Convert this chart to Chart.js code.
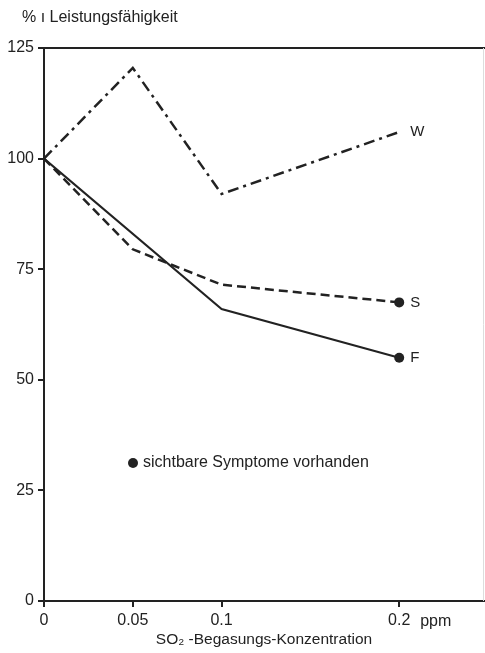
<!DOCTYPE html>
<html><head><meta charset="utf-8">
<script src="https://cdn.jsdelivr.net/npm/chart.js@4/dist/chart.umd.min.js"></script>
<style>html,body{margin:0;padding:0;background:#fff}#wrap{width:485px;height:653px}</style>
</head><body><div id="wrap"><canvas id="c" width="485" height="653"></canvas></div>
<script>
const concW = [0, 0.05, 0.1, 0.2];
const valuesW = [100, 120.5, 92, 106];
const concS = [0, 0.05, 0.1, 0.2];
const valuesS = [100, 79.5, 71.5, 67.5];
const concF = [0, 0.1, 0.2];
const valuesF = [100, 66, 55];
const seriesLabels = ['W', 'S', 'F'];
const symptomsW = [false, false, false, false];
const symptomsS = [false, false, false, true];
const symptomsF = [false, false, true];
const xTicks = [0, 0.05, 0.1, 0.2];
const xTickLabels = ['0', '0.05', '0.1', '0.2'];
const yTicks = [0, 25, 50, 75, 100, 125];
const yTitle = '% ı Leistungsfähigkeit';
const xTitle = 'SO₂ -Begasungs-Konzentration';
const xUnit = 'ppm';
const legendText = 'sichtbare Symptome vorhanden';

const INK = '#222';
const FONT = '"Liberation Sans", Arial, sans-serif';

function pts(xs, ys) { return xs.map((x, i) => ({ x: x, y: ys[i] })); }

const ds = [
  { label: seriesLabels[0], data: pts(concW, valuesW), borderColor: INK, borderWidth: 2.5,
    borderDash: [11, 5, 3, 5], pointRadius: symptomsW.map(s => s ? 5 : 0), backgroundColor: INK, showLine: true },
  { label: seriesLabels[1], data: pts(concS, valuesS), borderColor: INK, borderWidth: 2.5,
    borderDash: [9, 5], pointRadius: symptomsS.map(s => s ? 5 : 0), pointBackgroundColor: INK, pointBorderWidth: 0, backgroundColor: INK, showLine: true },
  { label: seriesLabels[2], data: pts(concF, valuesF), borderColor: INK, borderWidth: 2,
    pointRadius: symptomsF.map(s => s ? 5 : 0), pointBackgroundColor: INK, pointBorderWidth: 0, backgroundColor: INK, showLine: true }
];

const deco = {
  id: 'deco',
  afterDraw(chart) {
    const { ctx, chartArea: a, scales: { x, y } } = chart;
    const W = chart.width;
    ctx.save();
    ctx.strokeStyle = INK;
    ctx.lineWidth = 2;
    const yt = y.getPixelForValue(125);
    const yb = y.getPixelForValue(0);
    ctx.beginPath(); ctx.moveTo(a.left - 1, yt); ctx.lineTo(W, yt); ctx.stroke();
    ctx.beginPath(); ctx.moveTo(a.right - 2, yb); ctx.lineTo(W, yb); ctx.stroke();
    ctx.strokeStyle = '#ddd'; ctx.lineWidth = 1;
    ctx.beginPath(); ctx.moveTo(W - 1.5, yt); ctx.lineTo(W - 1.5, yb); ctx.stroke();

    ctx.fillStyle = INK;
    ctx.textBaseline = 'middle';
    ctx.textAlign = 'left';
    ctx.font = '16px ' + FONT;
    ctx.fillText(yTitle, 22, 18);

    ctx.font = '15.5px ' + FONT;
    ctx.textAlign = 'center';
    ctx.fillText(xTitle, (a.left + a.right) / 2 + 2, 640);
    ctx.textAlign = 'left';
    ctx.font = '16px ' + FONT;
    ctx.fillText(xUnit, x.getPixelForValue(0.2) + 21, 622);

    // series end labels
    ctx.font = '15px ' + FONT;
    chart.data.datasets.forEach((d) => {
      const last = d.data[d.data.length - 1];
      ctx.fillText(d.label, x.getPixelForValue(last.x) + 11, y.getPixelForValue(last.y));
    });

    // legend
    ctx.beginPath(); ctx.arc(133, 463, 5, 0, Math.PI * 2); ctx.fill();
    ctx.font = '16px ' + FONT;
    ctx.fillText(legendText, 143, 463);
    ctx.restore();
  }
};

new Chart(document.getElementById('c'), {
  type: 'scatter',
  data: { datasets: ds },
  options: {
    responsive: false, devicePixelRatio: 1, animation: false,
    layout: { padding: { top: 48, left: 0, right: 0, bottom: 0 } },
    plugins: { legend: { display: false }, tooltip: { enabled: false } },
    scales: {
      x: {
        type: 'linear', min: 0, max: 0.2455,
        afterBuildTicks: (s) => { s.ticks = xTicks.map(v => ({ value: v })); },
        afterFit: (s) => { s.height = 52; },
        ticks: { color: INK, font: { size: 16, family: FONT }, padding: 4, maxRotation: 0,
          callback: (v) => { const i = xTicks.indexOf(v); return i >= 0 ? xTickLabels[i] : ''; } },
        grid: { display: true, drawOnChartArea: false, tickLength: 6, color: INK, lineWidth: 2 },
        border: { display: true, color: INK, width: 2 }
      },
      y: {
        min: 0, max: 125,
        afterBuildTicks: (s) => { s.ticks = yTicks.map(v => ({ value: v })); },
        afterFit: (s) => { s.width = 44; },
        ticks: { color: INK, font: { size: 16, family: FONT }, padding: 4 },
        grid: { display: true, drawOnChartArea: false, tickLength: 6, color: INK, lineWidth: 2 },
        border: { display: true, color: INK, width: 2 }
      }
    }
  },
  plugins: [deco]
});
</script></body></html>
